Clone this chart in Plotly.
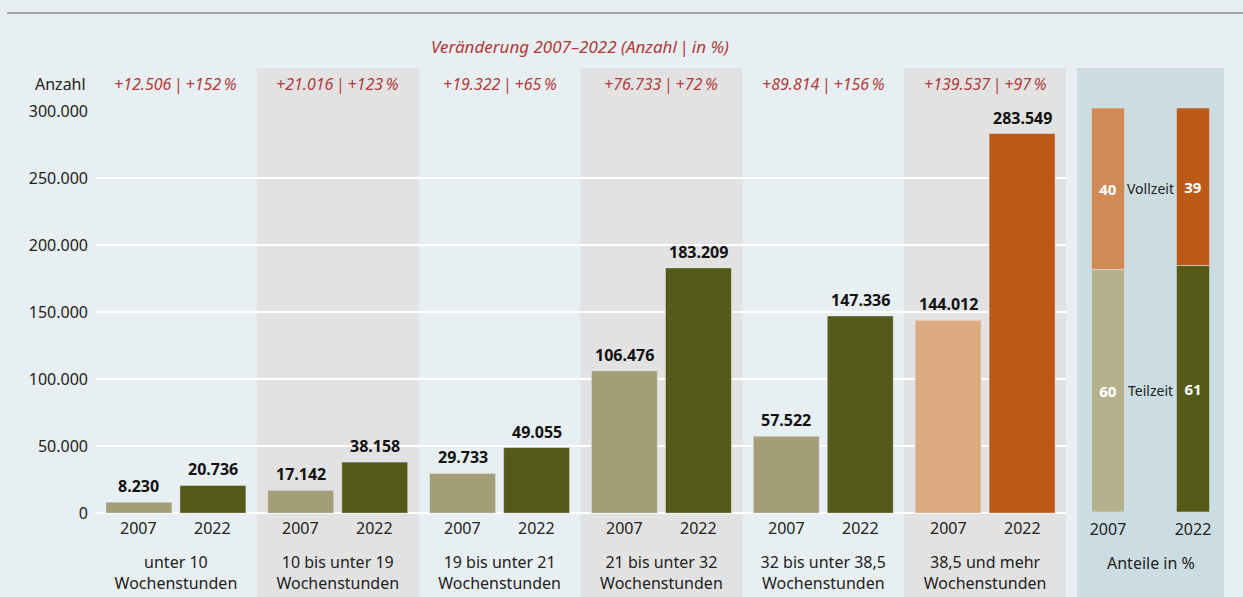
import plotly.graph_objects as go

# ---------------- data ----------------
categories = ["unter 10<br>Wochenstunden", "10 bis unter 19<br>Wochenstunden",
              "19 bis unter 21<br>Wochenstunden", "21 bis unter 32<br>Wochenstunden",
              "32 bis unter 38,5<br>Wochenstunden", "38,5 und mehr<br>Wochenstunden"]
years = ["2007", "2022"]
values_2007 = [8230, 17142, 29733, 106476, 57522, 144012]
values_2022 = [20736, 38158, 49055, 183209, 147336, 283549]
change_abs = ["+12.506", "+21.016", "+19.322", "+76.733", "+89.814", "+139.537"]
change_pct = ["+152", "+123", "+65", "+72", "+156", "+97"]
share_years = ["2007", "2022"]
share_teilzeit = [60, 61]
share_vollzeit = [40, 39]
y_ticks = [0, 50000, 100000, 150000, 200000, 250000, 300000]

# ---------------- styles ----------------
W, H = 1243, 597
FONT = "Noto Sans"
BG = "#e8eff2"
PANEL_GRAY = "#e2e2e2"
PANEL_BLUE = "#cbdde3"
RED = "#b23a3a"
TXT = "#222"
C07 = ["#a39e77"] * 5 + ["#dcaa81"]
C22 = ["#555a19"] * 5 + ["#bb5a17"]

def px_x(p):
    return p / W

def px_y(p):
    return 1 - p / H

def de(v):
    return f"{v:,}".replace(",", ".")

main_x0, main_x1 = 95, 1066
y_top, y_bot = 111.5, 513.2
slot = (main_x1 - main_x0) / len(categories)
bar_w = 66 / slot
off07 = -70 / slot
off22 = 4 / slot

fig = go.Figure()

for vals, cols, off, nm in ((values_2007, C07, off07, "2007"), (values_2022, C22, off22, "2022")):
    fig.add_trace(go.Bar(
        x=categories, y=vals, name=nm, marker_color=cols,
        width=bar_w, offset=off, xaxis="x", yaxis="y",
        showlegend=False, hoverinfo="skip"))

# right panel (shares)
fig.add_trace(go.Bar(
    x=share_years, y=share_teilzeit, marker_color=["#b5b18f", "#555a19"],
    width=0.39, xaxis="x2", yaxis="y2", showlegend=False, hoverinfo="skip",
    texttemplate="<b>%{y}</b>", textposition="inside", insidetextanchor="middle",
    textfont=dict(family=FONT, size=15, color="white")))
fig.add_trace(go.Bar(
    x=share_years, y=share_vollzeit, base=share_teilzeit,
    marker_color=["#d08a55", "#bb5a17"],
    width=0.39, xaxis="x2", yaxis="y2", showlegend=False, hoverinfo="skip",
    texttemplate="<b>%{y}</b>", textposition="inside", insidetextanchor="middle",
    textfont=dict(family=FONT, size=15, color="white")))

shapes = []
for i in (1, 3, 5):
    shapes.append(dict(type="rect", xref="x", yref="paper",
                       x0=i - 0.5, x1=i + 0.5, y0=0, y1=px_y(68),
                       fillcolor=PANEL_GRAY, line_width=0, layer="below"))
shapes.append(dict(type="rect", xref="paper", yref="paper",
                   x0=px_x(1077), x1=px_x(1224), y0=0, y1=px_y(68),
                   fillcolor=PANEL_BLUE, line_width=0, layer="below"))
shapes.append(dict(type="line", xref="paper", yref="paper",
                   x0=px_x(7), x1=1, y0=px_y(13), y1=px_y(13),
                   line=dict(color="#8a8a8a", width=1.5)))

BAR = "<span style='font-style:normal'>\u2009|\u2009</span>"
annotations = []
annotations.append(dict(xref="paper", yref="paper", x=px_x(580), y=px_y(47),
                        text=f"Veränderung 2007–2022 (Anzahl{BAR}in %)",
                        showarrow=False, font=dict(family=FONT, size=17, color=RED, style="italic"),
                        xanchor="center", yanchor="middle"))
annotations.append(dict(xref="paper", yref="paper", x=px_x(88), y=px_y(84),
                        text="Anzahl", showarrow=False,
                        font=dict(family=FONT, size=16, color=TXT),
                        xanchor="right", yanchor="middle"))
for c, a, p, v07, v22 in zip(categories, change_abs, change_pct, values_2007, values_2022):
    annotations.append(dict(xref="x", yref="paper", x=c, y=px_y(84),
                            text=f"{a}{BAR}{p}\u2009%",
                            showarrow=False,
                            font=dict(family=FONT, size=16, color=RED, style="italic"),
                            xanchor="center", yanchor="middle"))
    for yr, sh, v in zip(years, (-37, 37), (v07, v22)):
        annotations.append(dict(xref="x", yref="paper", x=c, y=px_y(528),
                                xshift=sh, text=yr, showarrow=False,
                                font=dict(family=FONT, size=16, color=TXT),
                                xanchor="center", yanchor="middle"))
        annotations.append(dict(xref="x", yref="y", x=c, y=v,
                                xshift=sh, yshift=3, text=f"<b>{de(v)}</b>", showarrow=False,
                                font=dict(family=FONT, size=16, color="#111"),
                                xanchor="center", yanchor="bottom"))
annotations.append(dict(xref="paper", yref="y2", x=px_x(1150), y=80,
                        text="Vollzeit", showarrow=False,
                        font=dict(family=FONT, size=14, color=TXT),
                        xanchor="center", yanchor="middle"))
annotations.append(dict(xref="paper", yref="y2", x=px_x(1150), y=30,
                        text="Teilzeit", showarrow=False,
                        font=dict(family=FONT, size=14, color=TXT),
                        xanchor="center", yanchor="middle"))
annotations.append(dict(xref="paper", yref="paper", x=px_x(1150.5), y=px_y(563),
                        text="Anteile in %", showarrow=False,
                        font=dict(family=FONT, size=16, color=TXT),
                        xanchor="center", yanchor="middle"))

fig.update_layout(
    width=W, height=H,
    margin=dict(l=0, r=0, t=0, b=0, autoexpand=False),
    paper_bgcolor=BG, plot_bgcolor="rgba(0,0,0,0)",
    separators=",.",
    barmode="overlay",
    font=dict(family=FONT, size=16, color=TXT),
    shapes=shapes, annotations=annotations,
    xaxis=dict(domain=[px_x(main_x0), px_x(main_x1)], type="category",
               automargin=False,
               showgrid=False, zeroline=False, showline=False,
               ticks="outside", ticklen=35, tickcolor="rgba(0,0,0,0)",
               tickfont=dict(family=FONT, size=16, color=TXT),
               range=[-0.5, len(categories) - 0.5]),
    yaxis=dict(domain=[px_y(y_bot), px_y(y_top)], range=[0, 300000],
               automargin=False,
               tickvals=y_ticks, tickformat=",d",
               showgrid=True, gridcolor="white", gridwidth=2,
               zeroline=True, zerolinecolor="white", zerolinewidth=2,
               showline=False, ticks="", ticklabelstandoff=6,
               tickfont=dict(family=FONT, size=16, color=TXT)),
    xaxis2=dict(domain=[px_x(1065.5), px_x(1235.5)], type="category",
                automargin=False,
                anchor="y2", showgrid=False, zeroline=False, showline=False,
                ticks="outside", ticklen=3, tickcolor="rgba(0,0,0,0)",
                tickfont=dict(family=FONT, size=16, color=TXT)),
    yaxis2=dict(domain=[px_y(512), px_y(108)], range=[0, 100],
                anchor="x2", visible=False, automargin=False),
)

fig.write_html("out.html", config={"displayModeBar": False},
               post_script="document.body.style.margin='0';document.documentElement.style.overflow='hidden';")
